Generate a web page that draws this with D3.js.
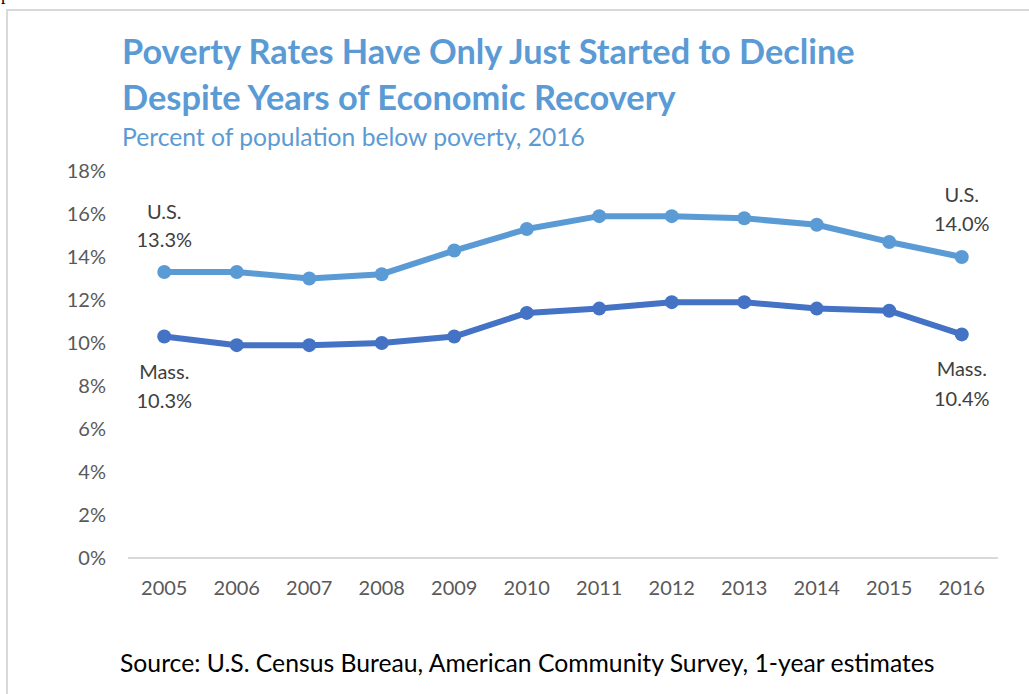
<!DOCTYPE html>
<html><head><meta charset="utf-8">
<script src="https://cdn.jsdelivr.net/npm/d3@7"></script>
<style>body{margin:0;background:#fff}svg{display:block}</style>
</head><body>
<script>
const years = ["2005","2006","2007","2008","2009","2010","2011","2012","2013","2014","2015","2016"];
const usValues = [13.3,13.3,13.0,13.2,14.3,15.3,15.9,15.9,15.8,15.5,14.7,14.0];
const massValues = [10.3,9.9,9.9,10.0,10.3,11.4,11.6,11.9,11.9,11.6,11.5,10.4];
const yTicks = [0,2,4,6,8,10,12,14,16,18];
const seriesNames = ["U.S.","Mass."];
const titleLines = ["Poverty Rates Have Only Just Started to Decline","Despite Years of Economic Recovery"];
const subtitle = "Percent of population below poverty, 2016";
const source = "Source: U.S. Census Bureau, American Community Survey, 1-year estimates";

const W=1029,H=694;
const svg=d3.select("body").append("svg").attr("width",W).attr("height",H);
const font="Lato, 'Open Sans', sans-serif";

// stray character and frame
svg.append("text").attr("x",1).attr("y",0).attr("font-family","'Liberation Serif',serif").attr("font-size",18).attr("fill","#000").text("p");
svg.append("path").attr("d",`M7,${H} V10 H${W}`).attr("fill","none").attr("stroke","#d9d9d9").attr("stroke-width",2);

function fit(sel,w){const n=sel.node();const l=n.getComputedTextLength();const fs=+sel.attr("font-size");sel.attr("font-size",fs*w/l);}

const x=d3.scaleBand().domain(years).range([128,998]);
const y=d3.scaleLinear().domain([0,18]).range([558,171]);

// titles
const t1=svg.append("text").attr("x",122).attr("y",64).attr("font-family",font).attr("font-weight","bold").attr("font-size",30).attr("fill","#5B9BD5").text(titleLines[0]);
fit(t1,733);
const t2=svg.append("text").attr("x",122).attr("y",110).attr("font-family",font).attr("font-weight","bold").attr("font-size",30).attr("fill","#5B9BD5").text(titleLines[1]);
fit(t2,554);
const st=svg.append("text").attr("x",122).attr("y",146).attr("font-family",font).attr("font-size",21).attr("fill","#5B9BD5").text(subtitle);
fit(st,463);

// y axis labels
const ya=svg.append("g").attr("transform","translate(106,0)").call(d3.axisLeft(y).tickValues(yTicks).tickFormat(d=>d+"%").tickSize(0).tickPadding(0));
ya.select(".domain").remove();
ya.selectAll("text").attr("font-family",font).attr("font-size",20).attr("fill","#595959");

// baseline gridline
svg.append("line").attr("x1",128).attr("x2",998).attr("y1",y(0)).attr("y2",y(0)).attr("stroke","#d9d9d9").attr("stroke-width",2);

// x axis labels
const xa=svg.append("g").attr("transform",`translate(0,${y(0)})`).call(d3.axisBottom(x).tickSize(0).tickPadding(23));
xa.select(".domain").remove();
xa.selectAll("text").attr("font-family",font).attr("font-size",20).attr("fill","#595959");

const series=[{name:seriesNames[0],vals:usValues,color:"#5B9BD5"},{name:seriesNames[1],vals:massValues,color:"#4472C4"}];
const cx=d=>x(d)+x.bandwidth()/2;
const line=d3.line().x((d,i)=>cx(years[i])).y(d=>y(d));
series.forEach(s=>{
  svg.append("path").datum(s.vals).attr("d",line).attr("fill","none").attr("stroke",s.color).attr("stroke-width",6).attr("stroke-linejoin","round");
  svg.selectAll(null).data(s.vals).enter().append("circle").attr("cx",(d,i)=>cx(years[i])).attr("cy",d=>y(d)).attr("r",7).attr("fill",s.color);
});

// annotations
function ann(i,val,name,dy1,dy2){
  const g=svg.append("g").attr("font-family",font).attr("font-size",20).attr("fill","#404040").attr("text-anchor","middle");
  g.append("text").attr("x",cx(years[i])).attr("y",y(val)+dy1).text(name);
  g.append("text").attr("x",cx(years[i])).attr("y",y(val)+dy2).text(val.toFixed(1)+"%");
}
ann(0,usValues[0],seriesNames[0],-53,-25);
ann(11,usValues[11],seriesNames[0],-55,-26);
ann(0,massValues[0],seriesNames[1],42,71);
ann(11,massValues[11],seriesNames[1],42,72);

const so=svg.append("text").attr("x",120).attr("y",672).attr("font-family",font).attr("font-size",21).attr("fill","#000").text(source);
fit(so,815);
</script>
</body></html>
